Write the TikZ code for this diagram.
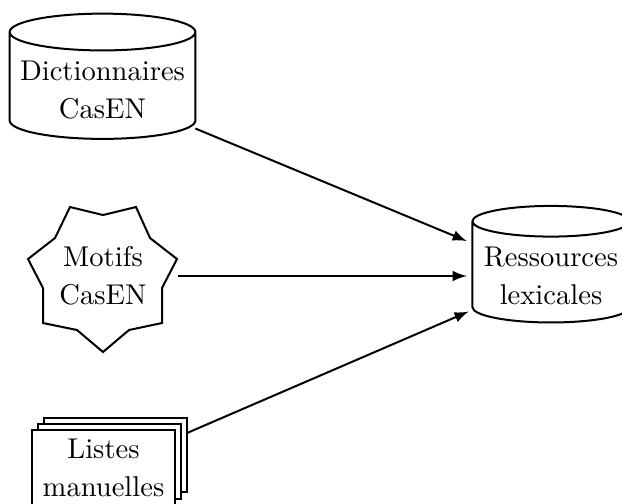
\documentclass[tikz,border=0pt]{standalone}
\usepackage{amsmath}
\usetikzlibrary{shapes.geometric,shadows}
\tikzset{
    base/.style={cylinder,shape border rotate=90,aspect=0.2,draw,align=center,outer sep=2pt},
    liste/.style={rectangle,draw,fill=white,align=center,minimum width=50pt,minimum height=26pt,inner sep=0pt,
        copy shadow={shadow xshift=1ex,shadow yshift=1ex},copy shadow={shadow xshift=.5ex,shadow yshift=.5ex}},
    fleche/.style={-latex}
}
\begin{document}
\begin{tikzpicture}[x=0.35pt,y=-0.35pt,line width=.7pt]

                \useasboundingbox (0,0) rectangle (622,503);

                \node[base,minimum width=65pt,minimum height=38.2pt] (dict) at (102.5,90) {Dictionnaires\\[1.3pt]CasEN};
                \node[base,minimum width=55pt,minimum height=36.6pt] (ress) at (551,276) {Ressources\\[1.3pt]lexicales};

                \draw (70,207) -- (103,215) -- (136,207) -- (150,238) -- (177,259) -- (162,288) -- (162,323) -- (129,330) -- (103,352) -- (77,330) -- (43,323) -- (43,288) -- (28,259) -- (55,238) -- cycle;
                \node[align=center,minimum width=52pt] (motifs) at (103,276) {Motifs\\[1.3pt]CasEN};

                \node[liste] (listes) at (103.5,467.5) {Listes\\[1.3pt]manuelles};
                \coordinate (listesout) at (187,433);

                \draw[fleche] (dict) -- (ress);
                \draw[fleche] (motifs.east) -- (motifs.east -| ress.west);
                \draw[fleche] (listesout) -- (ress);

            \end{tikzpicture}
\end{document}
